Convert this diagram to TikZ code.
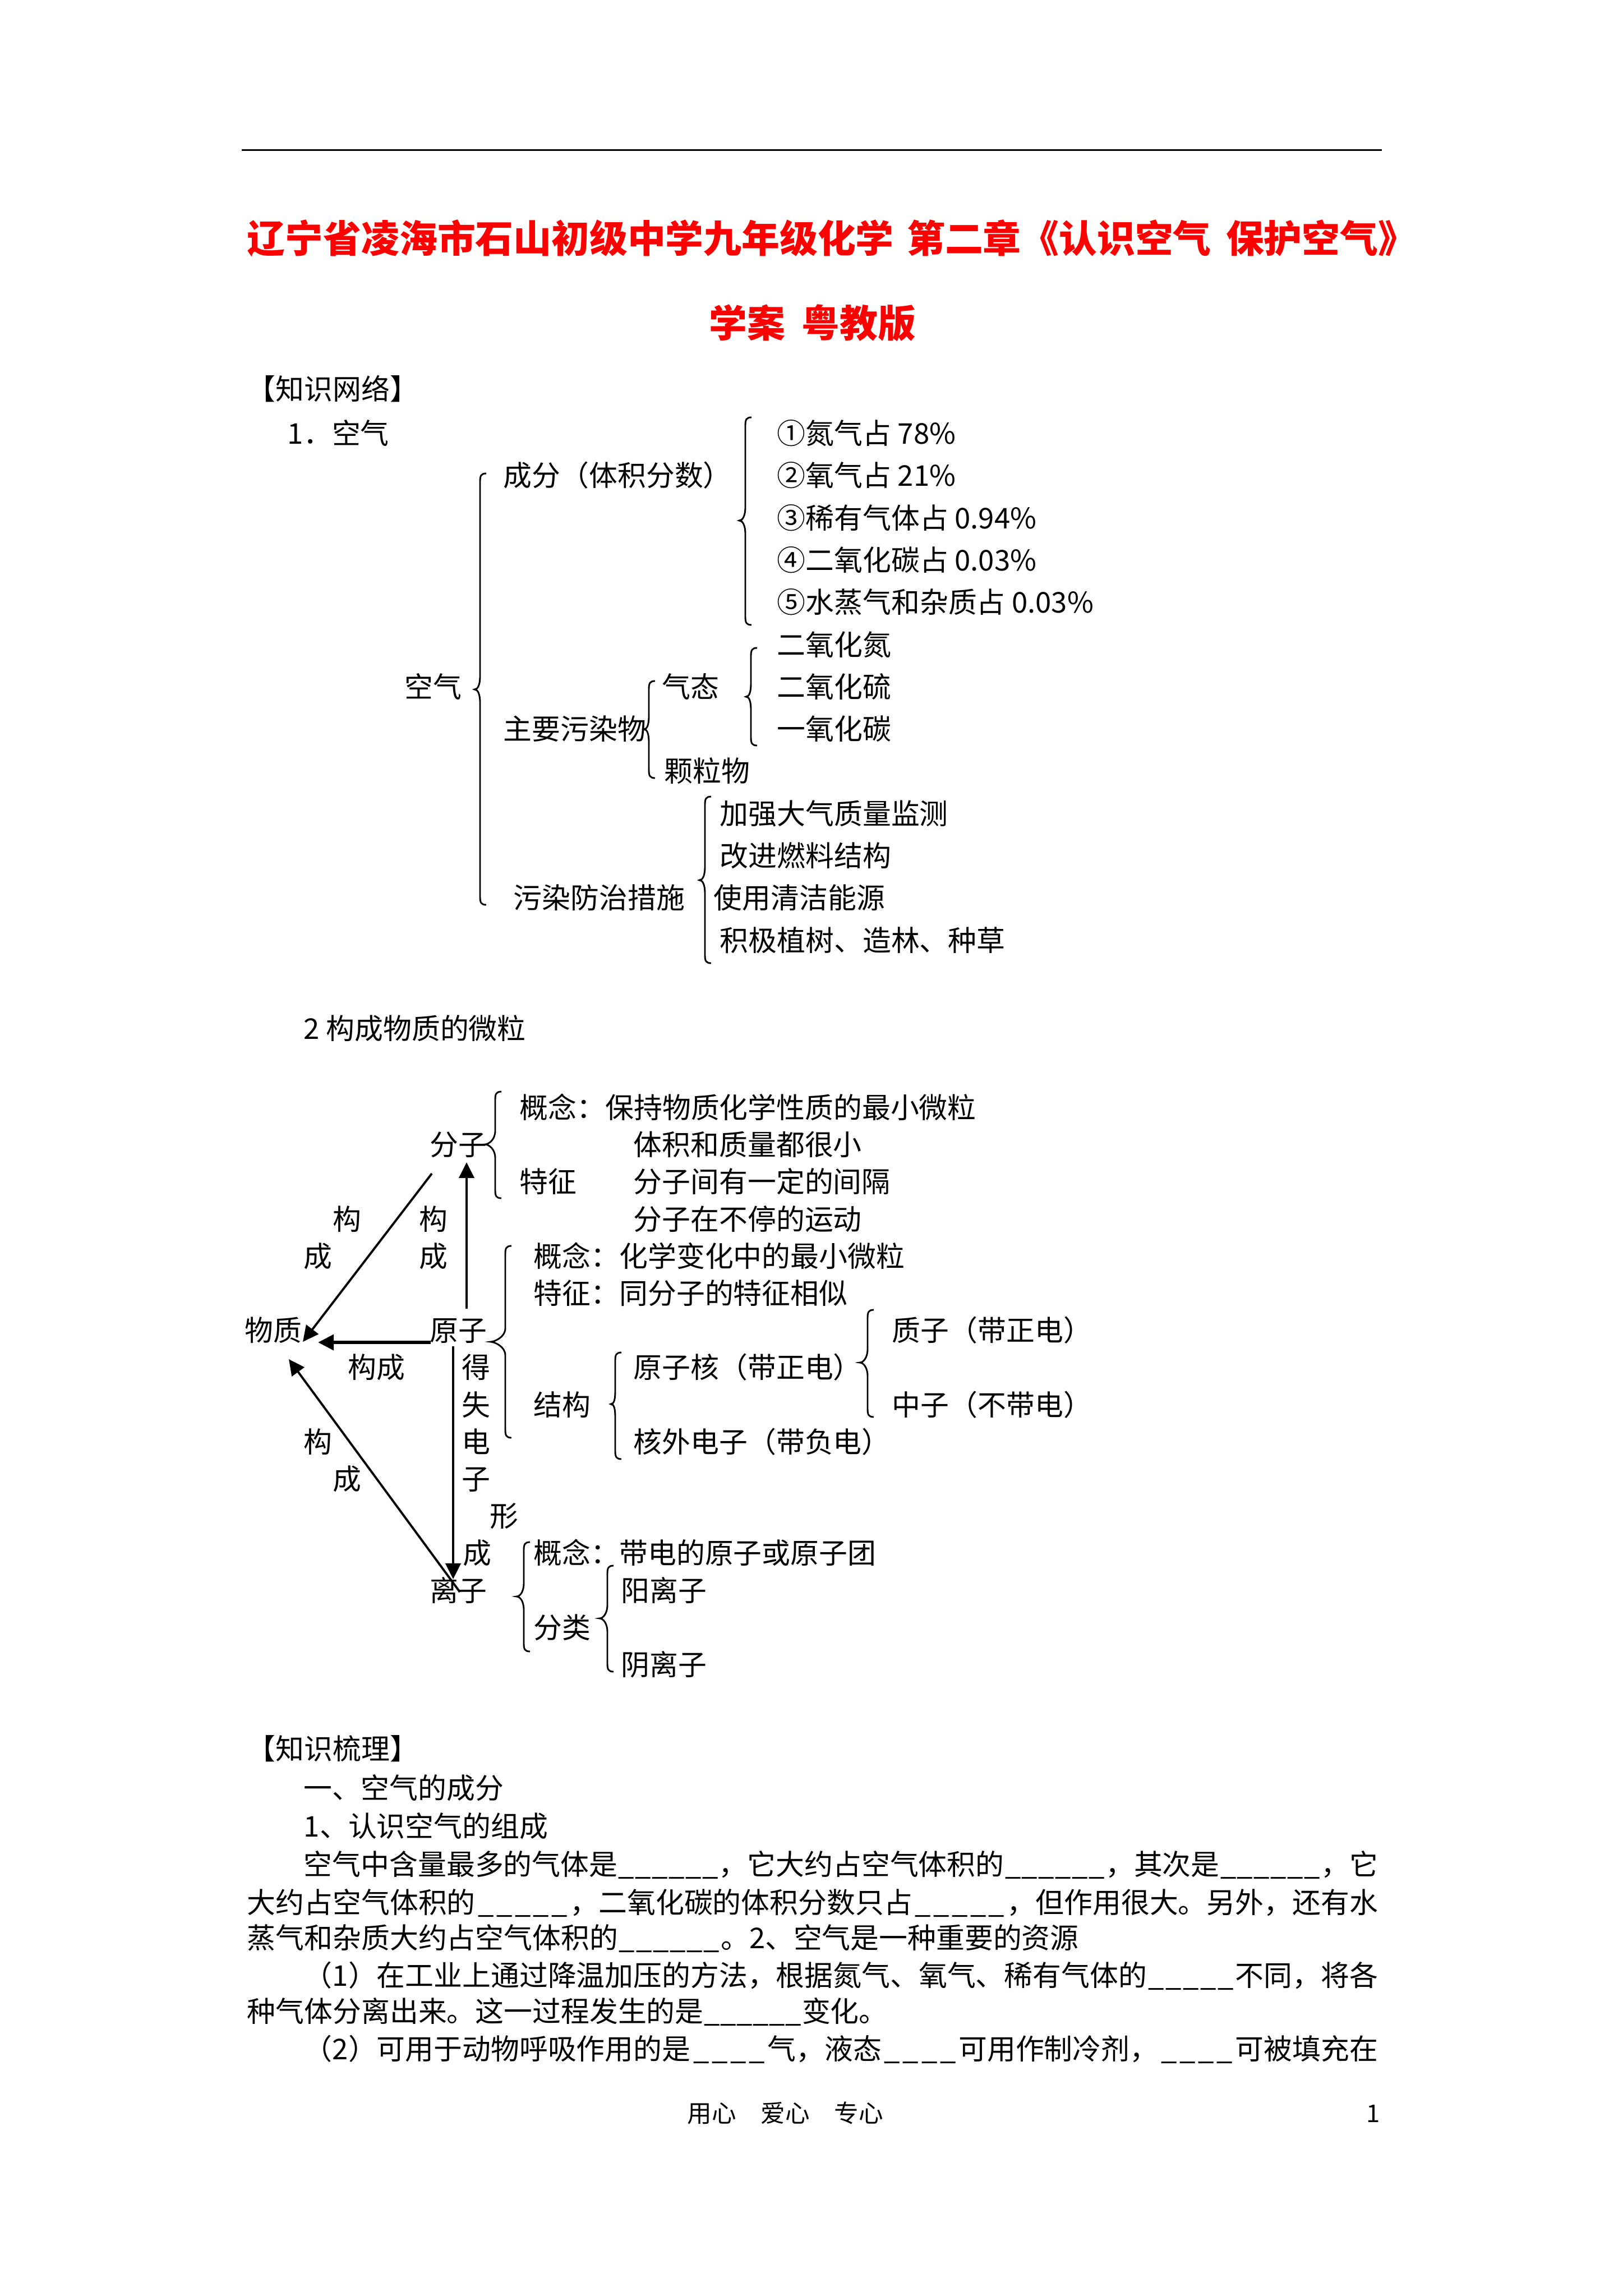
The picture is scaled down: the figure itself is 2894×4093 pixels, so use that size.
\documentclass[tikz,border=0pt]{standalone}
\usepackage{fontspec}
\newfontfamily\cjk{Noto Sans CJK SC}
\usetikzlibrary{arrows.meta}
\newcommand\W[1]{\dimexpr0.20647pt*#1\relax}
\newcommand\blank[1]{\xleaders\hbox{\_}\hskip #1 plus 1fil\relax}
% brace: x-line, y-top, x-tip, y-tip, y-bottom
\newcommand\brc[5]{\draw[brcline] (#1+11,#2) .. controls (#1+2,#2) and (#1,#2+4) .. (#1,#2+14) -- (#1,#4-24) .. controls (#1,#4-8) and (#3+6,#4) .. (#3,#4) .. controls (#3+6,#4) and (#1,#4+8) .. (#1,#4+24) -- (#1,#5-14) .. controls (#1,#5-4) and (#1+2,#5) .. (#1+11,#5);}
\begin{document}
\begin{tikzpicture}[x=0.20647pt,y=-0.20647pt,
  txt/.style={anchor=west,inner sep=0pt,text height=9.24pt,text depth=1.26pt,font=\cjk\fontsize{10.5pt}{12pt}\selectfont},
  ttl/.style={inner sep=0pt,text height=12.32pt,text depth=1.68pt,font=\cjk\bfseries\fontsize{14pt}{16pt}\selectfont,text=red},
  ftr/.style={anchor=west,inner sep=0pt,text height=7.92pt,text depth=1.08pt,font=\cjk\fontsize{9pt}{11pt}\selectfont},
  brcline/.style={line width=0.6pt},
  arr/.style={line width=0.8pt,-{Triangle[length=5.8pt,width=5.6pt]}},
  arrthick/.style={line width=1.3pt,-{Triangle[length=5.8pt,width=5.6pt]}}]
\useasboundingbox (0,0) rectangle (2894,4093);
\fill[white] (0,0) rectangle (2894,4093);
% header rule
\draw[line width=0.7pt] (431,267.5) -- (2464,267.5);
% title
\node[ttl,anchor=west] (title1) at (440,425) {辽宁省凌海市石山初级中学九年级化学 \kern0.12em第二章《认识空气 \kern0.16em保护空气》};
\node[ttl] (title2) at (1449,576) {学案 \kern0.2em粤教版};
% ---------- section 1
\node[txt] (net) at (440,693) {【知识网络】};
\node[txt] (s1) at (512,772) {1．空气};
\node[txt] (air) at (721,1224) {空气};
\node[txt] (comp) at (897,847) {成分（体积分数）};
\node[txt] (c1) at (1385,772) {①氮气占 78\%};
\node[txt] (c2) at (1385,847) {②氧气占 21\%};
\node[txt] (c3) at (1385,923) {③稀有气体占 0.94\%};
\node[txt] (c4) at (1385,998) {④二氧化碳占 0.03\%};
\node[txt] (c5) at (1385,1073) {⑤水蒸气和杂质占 0.03\%};
\node[txt] (g1) at (1385,1149) {二氧化氮};
\node[txt] (g2) at (1385,1224) {二氧化硫};
\node[txt] (g3) at (1385,1299) {一氧化碳};
\node[txt] (gas) at (1180,1224) {气态};
\node[txt] (pol) at (897,1299) {主要污染物};
\node[txt] (par) at (1184,1374) {颗粒物};
\node[txt] (mea) at (915,1600) {污染防治措施};
\node[txt] (m1) at (1283,1450) {加强大气质量监测};
\node[txt] (m2) at (1283,1525) {改进燃料结构};
\node[txt] (m3) at (1272,1600) {使用清洁能源};
\node[txt] (m4) at (1283,1676) {积极植树、造林、种草};
\brc{856}{844}{846}{1229}{1613}
\brc{1329}{744}{1318}{928}{1114}
\brc{1157}{1214}{1148}{1300}{1387}
\brc{1339}{1155}{1330}{1242}{1329}
\brc{1257}{1420}{1247}{1569}{1717}
% ---------- section 2
\node[txt] (s2) at (541,1833) {2 构成物质的微粒};
\node[txt] (mol) at (766,2040) {分子};
\node[txt] (mat) at (436,2371) {物质};
\node[txt] (atom) at (766,2371) {原子};
\node[txt] (ion) at (766,2835) {离子};
\node[txt] (f1) at (926,1974) {概念：保持物质化学性质的最小微粒};
\node[txt] (f2) at (1129,2040) {体积和质量都很小};
\node[txt] (f3) at (926,2106) {特征};
\node[txt] (f4) at (1129,2106) {分子间有一定的间隔};
\node[txt] (f5) at (1129,2173) {分子在不停的运动};
\node[txt] (la) at (593,2173) {构};
\node[txt] (lb) at (541,2239) {成};
\node[txt] (lc) at (747,2173) {构};
\node[txt] (ld) at (747,2239) {成};
\node[txt] (y1) at (951,2239) {概念：化学变化中的最小微粒};
\node[txt] (y2) at (951,2305) {特征：同分子的特征相似};
\node[txt] (str) at (951,2504) {结构};
\node[txt] (nuc) at (1129,2437) {原子核（带正电）};
\node[txt] (ele) at (1129,2570) {核外电子（带负电）};
\node[txt] (pro) at (1590,2371) {质子（带正电）};
\node[txt] (neu) at (1590,2504) {中子（不带电）};
\node[txt] (gc) at (620,2437) {构成};
\node[txt] (e1) at (823,2437) {得};
\node[txt] (e2) at (823,2504) {失};
\node[txt] (e3) at (823,2570) {电};
\node[txt] (e4) at (823,2636) {子};
\node[txt] (e5) at (873,2702) {形};
\node[txt] (e6) at (825,2768) {成};
\node[txt] (le) at (541,2570) {构};
\node[txt] (lf) at (593,2636) {成};
\node[txt] (i1) at (951,2768) {概念：带电的原子或原子团};
\node[txt] (cls) at (951,2901) {分类};
\node[txt] (cat) at (1107,2835) {阳离子};
\node[txt] (ani) at (1107,2967) {阴离子};
\brc{883}{1946}{865}{2040}{2136}
\brc{901}{2221}{875}{2392}{2563}
\brc{1097}{2411}{1089}{2503}{2601}
\brc{1547}{2335}{1533}{2429}{2526}
\brc{934}{2749}{921}{2846}{2944}
\brc{1083}{2791}{1069}{2885}{2980}
% arrows
\coordinate (a1s) at (770,2092);
\coordinate (a1e) at (540,2392);
\coordinate (a2s) at (768,2393);
\coordinate (a2e) at (567,2393);
\coordinate (a3s) at (832,2333);
\coordinate (a3e) at (832,2072);
\coordinate (a4s) at (808,2400);
\coordinate (a4e) at (808,2815);
\coordinate (a5s) at (820,2838);
\coordinate (a5e) at (515,2423);
\draw[arr] (a1s) -- (a1e);
\draw[arrthick] (a2s) -- (a2e);
\draw[arr] (a3s) -- (a3e);
\draw[arr] (a4s) -- (a4e);
\draw[arr] (a5s) -- (a5e);
% ---------- section 3
\node[txt] (sort) at (440,3117) {【知识梳理】};
\node[txt] (h1) at (541,3187) {一、空气的成分};
\node[txt] (h2) at (541,3255) {1、认识空气的组成};
\node[txt] (p1) at (541,3323) {\hbox to \W{1915}{空气中含量最多的气体是\blank{3.3em}，它大约占空气体积的\blank{3.3em}，其次是\blank{3.3em}，它}};
\node[txt] (p2) at (440,3391) {\hbox to \W{2016}{大约占空气体积的\blank{3.3em}，二氧化碳的体积分数只占\blank{3.3em}，但作用很大。另外，还有水}};
\node[txt] (p3) at (440,3454) {蒸气和杂质大约占空气体积的\blank{3.6em}。2、空气是一种重要的资源};
\node[txt] (p4) at (541,3521) {\hbox to \W{1915}{（1）在工业上通过降温加压的方法，根据氮气、氧气、稀有气体的\blank{3em}不同，将各}};
\node[txt] (p5) at (440,3585) {种气体分离出来。这一过程发生的是\blank{3.45em}变化。};
\node[txt] (p6) at (541,3652) {\hbox to \W{1915}{（2）可用于动物呼吸作用的是\blank{2.5em}气，液态\blank{2.5em}可用作制冷剂，\blank{2.5em}可被填充在}};
% footer
\node[ftr] (foot) at (1225,3767) {用心　爱心　专心};
\node[ftr] (pg) at (2435,3767) {1};
\end{tikzpicture}
\end{document}
